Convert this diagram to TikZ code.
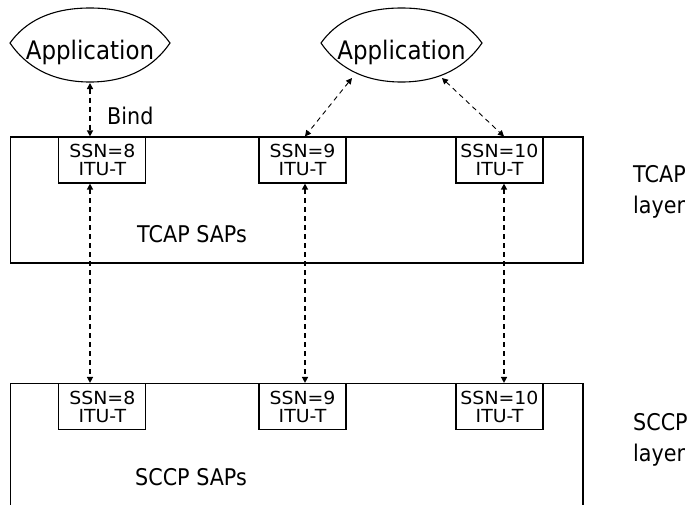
\documentclass[tikz,border=0pt]{standalone}
\usepackage{fontspec}
\setmainfont{DejaVu Sans}[FakeStretch=0.9]
\newfontfamily\ssnfont{DejaVu Sans}[FakeStretch=1.05]
\usetikzlibrary{arrows.meta}

\begin{document}
\begin{tikzpicture}[x=1pt,y=1pt,
  layerbox/.style={draw, line width=1.2pt},
  sapbox/.style={draw, line width=1.2pt, minimum width=87pt, minimum height=46pt,
    inner sep=0pt, align=center, font=\ssnfont\fontsize{18}{18}\selectfont},
  lens/.style={draw, line width=1.1pt},
  apptext/.style={font=\fontsize{25.5}{30}\selectfont, inner sep=0pt, anchor=base},
  lbl/.style={font=\fontsize{23}{28}\selectfont, inner sep=0pt, anchor=base west},
  tip/.tip={Triangle[length=6pt,width=6pt]},
  bindarrow/.style={line width=2pt, dash pattern=on 5pt off 4pt, tip-tip},
  linkarrow/.style={line width=0.9pt, dash pattern=on 5pt off 4pt, tip-tip}
]
\useasboundingbox (0,0) rectangle (696,-504);
\clip (0,0) rectangle (696,-504);

% column positions of the vertical connectors
\coordinate (c8)  at (90,0);
\coordinate (c9)  at (305,0);
\coordinate (c10) at (504,0);

% layer boxes
\draw[layerbox] (10.7,-137) rectangle (583,-263);
\draw[layerbox] (10.7,-383.5) rectangle (583,-520);

% service access points of the TCAP layer
\node[sapbox] (t8)  at (102.3,-160) {SSN=8\\ITU-T};
\node[sapbox] (t9)  at (302.5,-160) {SSN=9\\ITU-T};
\node[sapbox] (t10) at (499.5,-160) {SSN=10\\ITU-T};

% service access points of the SCCP layer
\node[sapbox] (b8)  at (102.3,-406.5) {SSN=8\\ITU-T};
\node[sapbox] (b9)  at (302.5,-406.5) {SSN=9\\ITU-T};
\node[sapbox] (b10) at (499.5,-406.5) {SSN=10\\ITU-T};

% applications (lens-shaped outlines)
\node[apptext] (app1) at (90,-59) {Application};
\draw[lens] (10,-43) .. controls (25,-22) and (50,-8) .. (90,-8)
  .. controls (130,-8) and (155,-22) .. (170,-43)
  .. controls (155,-65) and (130,-82) .. (90,-82)
  .. controls (50,-82) and (25,-65) .. (10,-43) -- cycle;
\coordinate (app1s) at (90,-83);

\node[apptext] (app2) at (401.5,-59) {Application};
\draw[lens] (321,-43) .. controls (336,-22) and (361,-8) .. (401.5,-8)
  .. controls (442,-8) and (467,-22) .. (482,-43)
  .. controls (467,-65) and (442,-82) .. (401.5,-82)
  .. controls (361,-82) and (336,-65) .. (321,-43) -- cycle;
\coordinate (app2sw) at (352,-78);
\coordinate (app2se) at (442,-78);

% texts
\node[lbl] (bind) at (107,-124) {Bind};
\node[lbl] (tsaps) at (137,-242) {TCAP SAPs};
\node[lbl] (ssaps) at (135,-485) {SCCP SAPs};
\node[lbl] (tcapA) at (633,-182) {TCAP};
\node[lbl] (tcapB) at (633,-213) {layer};
\node[lbl] (sccpA) at (633,-430) {SCCP};
\node[lbl] (sccpB) at (633,-461) {layer};

% connectors
\draw[bindarrow] (app1s) -- (t8.north -| c8);
\draw[linkarrow] (app2sw) -- (t9.north -| c9);
\draw[linkarrow] (app2se) -- (t10.north -| c10);
\draw[bindarrow] (t8.south -| c8) -- (b8.north -| c8);
\draw[bindarrow] (t9.south -| c9) -- (b9.north -| c9);
\draw[bindarrow] (t10.south -| c10) -- (b10.north -| c10);
\end{tikzpicture}
\end{document}
